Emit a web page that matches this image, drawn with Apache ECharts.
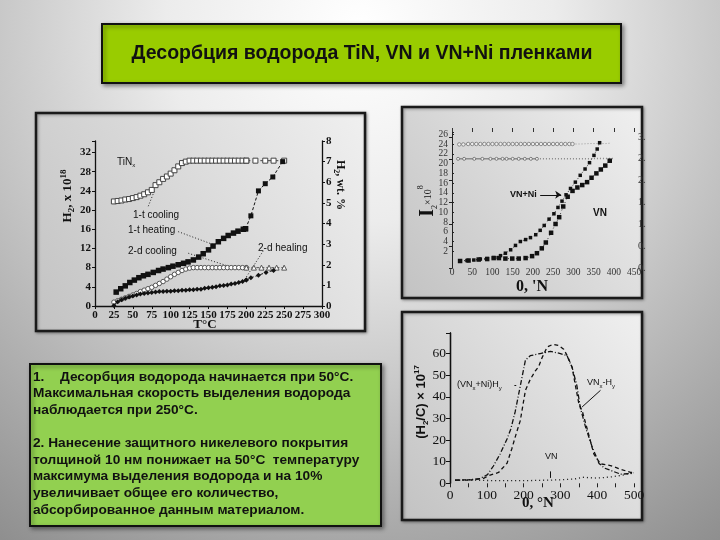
<!DOCTYPE html>
<html><head><meta charset="utf-8">
<script src="https://cdn.jsdelivr.net/npm/echarts@6/dist/echarts.min.js"></script>
<style>html,body{margin:0;padding:0;background:#c8c8c8}#c{width:720px;height:540px}</style>
</head><body><div id="c"></div>
<script>
// ---------- Chart 1 (TiN) : x = T, °C ; y = H2 x 10^18 ----------
const c1Ticks = [0, 25, 50, 75, 100, 125, 150, 175, 200, 225, 250, 275, 300];
const cool1 = [[25,21.8],[30,21.9],[35,22.0],[40,22.2],[45,22.3],[50,22.5],[55,22.7],[60,23.0],[65,23.3],[70,23.7],[75,24.2],[80,25.2],[85,25.8],[90,26.5],[95,27.0],[100,27.6],[105,28.3],[110,29.1],[115,29.8],[120,30.1],[125,30.3],[130,30.3],[135,30.3],[140,30.3],[145,30.3],[150,30.3],[155,30.3],[160,30.3],[165,30.3],[170,30.3],[175,30.3],[180,30.3],[185,30.3],[190,30.3],[195,30.3],[200,30.3]];
const cool1Tail = [[200,30.3],[212,30.3],[225,30.3],[236,30.3],[250,30.3]];
const heat1 = [[28,2.9],[34,3.6],[40,4.2],[46,4.9],[52,5.4],[58,5.9],[64,6.3],[70,6.6],[77,7.0],[84,7.4],[90,7.7],[97,8.0],[103,8.3],[110,8.6],[117,8.9],[123,9.2],[130,9.6],[137,10.2],[143,10.9],[150,11.7],[156,12.5],[163,13.4],[170,14.1],[176,14.7],[183,15.2],[189,15.6],[196,16.0],[199,16.1]];
const heat1Tail = [[199,16.1],[206,18.8],[216,24.0],[225,25.5],[235,26.9],[248,30.1]];
const cool2 = [[25,0.8],[30,1.1],[35,1.4],[40,1.7],[45,2.0],[50,2.3],[55,2.6],[60,3.0],[65,3.3],[70,3.6],[75,3.9],[80,4.3],[85,4.7],[90,5.1],[95,5.6],[100,6.1],[105,6.6],[110,7.0],[115,7.4],[120,7.7],[125,7.9],[130,8.0],[135,8.0],[140,8.0],[145,8.0],[150,8.0],[155,8.0],[160,8.0],[165,8.0],[170,8.0],[175,8.0],[180,8.0],[185,8.0],[190,8.0],[195,8.0],[200,8.0]];
const cool2Tail = [[200,8.0],[210,8.0],[220,8.0],[230,8.0],[240,8.0],[250,8.0]];
const heat2 = [[25,0.1],[30,0.9],[35,1.3],[40,1.6],[45,1.9],[50,2.1],[55,2.3],[60,2.5],[65,2.6],[70,2.7],[75,2.8],[80,2.9],[85,3.0],[90,3.0],[95,3.1],[100,3.1],[105,3.2],[110,3.2],[115,3.3],[120,3.3],[125,3.4],[130,3.4],[135,3.5],[140,3.5],[145,3.7],[150,3.8],[155,3.9],[160,4.0],[165,4.2],[170,4.3],[175,4.4],[180,4.6],[185,4.7],[190,4.9],[195,5.1],[200,5.4]];
const heat2Tail = [[200,5.4],[206,5.9],[216,6.4],[226,7.0],[236,7.4]];

// ---------- Chart 2 (VN, VN+Ni) ----------
const vnNi = [[20,0],[37,0.1],[54,0.2],[70,0.4],[87,0.5],[103,0.7],[120,1.1],[132,1.6],[145,2.3],[157,3.2],[169,4.0],[182,4.4],[194,4.8],[207,5.4],[218,6.3],[228,7.3],[240,8.6],[252,9.7],[262,11.0],[272,12.3],[282,13.6],[293,14.9],[305,16.2],[317,17.6],[329,18.9],[340,20.2],[351,21.7],[359,23.0],[365,24.3]];
const vn = [[20,0],[41,0.1],[66,0.3],[87,0.4],[103,0.6],[116,0.6],[132,0.5],[149,0.5],[165,0.5],[182,0.6],[198,1.0],[210,1.6],[222,2.6],[232,3.8],[245,5.8],[256,7.6],[265,9.0],[275,11.2],[286,13.2],[298,14.4],[310,15.1],[322,15.6],[334,16.2],[345,17.1],[357,18.0],[368,18.8],[379,19.6],[390,20.6]];
const wtTop = [[18,2.83],[28,2.83],[40,2.84],[50,2.84],[60,2.84],[70,2.84],[80,2.84],[90,2.84],[100,2.84],[110,2.84],[120,2.84],[130,2.84],[140,2.84],[150,2.84],[160,2.84],[170,2.84],[180,2.84],[190,2.84],[200,2.84],[210,2.84],[220,2.84],[230,2.84],[240,2.84],[250,2.84],[260,2.84],[270,2.84],[280,2.84],[290,2.84],[298,2.84]];
const wtTopTail = [[298,2.84],[320,2.84],[340,2.85],[360,2.85],[380,2.85],[393,2.86]];
const wtLow = [[15,2.5],[30,2.5],[55,2.5],[75,2.5],[95,2.5],[110,2.5],[125,2.5],[135,2.5],[150,2.5],[165,2.5],[180,2.5],[195,2.5],[210,2.5]];
const wtLowTail = [[210,2.5],[300,2.5],[400,2.51]];

// ---------- Chart 3 (desorption rate) ----------
const vnNiH = [[14,1.5],[45,1.5],[82,2.2],[102,4],[118,8],[136,13.5],[155,20.5],[165,25],[177,33],[191,45],[205,57],[218,59],[245,60],[273,61],[300,60],[318,59],[332,53.5],[345,45],[354,35],[362,30],[370,25],[386,17],[405,9.2],[420,7],[436,6],[464,4.2],[491,4.5],[500,4.8]];
const vnH = [[14,1.5],[64,1.6],[91,2.3],[109,3.8],[132,5],[155,9.3],[168,16],[180,23],[191,29],[198,36],[205,43],[218,48],[232,52],[241,54],[250,58],[264,63],[280,64.3],[295,63.7],[309,62],[320,58.5],[332,53.5],[341,45],[350,37],[360,33],[373,25],[391,13.5],[409,9],[436,8.2],[464,6.5],[491,5],[500,5]];
const vnBase = [[14,1.5],[50,1.5],[100,1.3],[150,1.2],[200,1.2],[250,1.4],[300,1.6],[340,2.0],[360,2.8],[400,2.4],[440,3.0],[470,3.8],[500,5]];

const SERIF = '"Liberation Serif","DejaVu Serif",serif';
const SANS = '"Liberation Sans",Arial,sans-serif';
const chart = echarts.init(document.getElementById('c'));

function panel(x, y, w, h) {
  return { type: 'rect', z: -50, shape: { x: x, y: y, width: w, height: h },
    style: { fill: new echarts.graphic.LinearGradient(0, 1, 1, 0, [{offset:0,color:'#c2c2c2'},{offset:1,color:'#f0f0f0'}]),
      stroke: '#1a1a1a', lineWidth: 2.5, shadowBlur: 3, shadowColor: 'rgba(0,0,0,0.35)', shadowOffsetX: 1, shadowOffsetY: 1 } };
}
function txt(x, y, text, font, extra) {
  return Object.assign({ type: 'text', z: 60, x: x, y: y,
    style: Object.assign({ text: text, font: font, fill: '#111', align: 'left', verticalAlign: 'middle' }, extra || {}) });
}
const sub = (fs) => ({ fontSize: fs, verticalAlign: 'bottom', lineHeight: fs + 1 });
const sup = (fs) => ({ fontSize: fs, verticalAlign: 'top', lineHeight: fs + 1 });

const textFont = 'bold 13.7px ' + SANS;
const graphics = [
  { type: 'rect', z: -100, shape: { x: 0, y: 0, width: 720, height: 540 },
    style: { fill: new echarts.graphic.RadialGradient(0.5, 0.05, 1.2, [{offset:0,color:'#ffffff'},{offset:0.3,color:'#ececec'},{offset:1,color:'#8a8a8a'}]) } },
  { type: 'rect', z: -50, shape: { x: 102, y: 24, width: 519, height: 59 },
    style: { fill: '#99cc00', stroke: '#111', lineWidth: 2, shadowBlur: 4, shadowColor: 'rgba(0,0,0,0.4)', shadowOffsetX: 2, shadowOffsetY: 2 } },
  txt(362, 54, 'Десорбция водорода TiN, VN и VN+Ni пленками', 'bold 19.5px ' + SANS, { align: 'center' }),
  panel(36, 113, 329, 218),
  panel(402, 107, 240, 191),
  panel(402, 312, 240, 208),
  { type: 'rect', z: -50, shape: { x: 30, y: 364, width: 351, height: 162 },
    style: { fill: '#92d050', stroke: '#111', lineWidth: 2, shadowBlur: 4, shadowColor: 'rgba(0,0,0,0.4)', shadowOffsetX: 2, shadowOffsetY: 2 } },
  txt(33, 377, '1.', textFont),
  txt(60, 377, 'Десорбция водорода начинается при 50°С.', textFont),
  txt(33, 393.6, 'Максимальная скорость выделения водорода', textFont),
  txt(33, 410.2, 'наблюдается при 250°С.', textFont),
  txt(33, 443.4, '2. Нанесение защитного никелевого покрытия', textFont),
  txt(33, 460, 'толщиной 10 нм понижает на 50°С  температуру', textFont),
  txt(33, 476.6, 'максимума выделения водорода и на 10%', textFont),
  txt(33, 493.2, 'увеличивает общее его количество,', textFont),
  txt(33, 509.8, 'абсорбированное данным материалом.', textFont),
  // chart 1 texts
  Object.assign(txt(68, 196, '{b|H}{s|2}{b|, x 10}{p|18}', 'bold 13px ' + SERIF,
    { align: 'center', rich: { b: { fontSize: 13, fontWeight: 'bold', fontFamily: SERIF, lineHeight: 17 }, s: Object.assign(sub(9), {fontWeight:'bold', fontFamily: SERIF}), p: Object.assign(sup(9), {fontWeight:'bold', fontFamily: SERIF}) } }), { rotation: Math.PI / 2 }),
  Object.assign(txt(340, 185, '{b|H}{s|2}{b|, wt. %}', 'bold 12px ' + SERIF,
    { align: 'center', rich: { b: { fontSize: 12, fontWeight: 'bold', fontFamily: SERIF, lineHeight: 15 }, s: Object.assign(sub(8), {fontWeight:'bold', fontFamily: SERIF}) } }), { rotation: -Math.PI / 2 }),
  txt(205, 325, 'T°C', 'bold 13px ' + SERIF, { align: 'center' }),
  txt(117, 162, '{a|TiN}{s|x}', '10px ' + SANS, { rich: { a: { fontSize: 10, fontFamily: SANS, lineHeight: 13 }, s: sub(6) } }),
  txt(133, 215, '1-t cooling', '10px ' + SANS),
  txt(128, 230, '1-t heating', '10px ' + SANS),
  txt(128, 251.5, '2-d cooling', '10px ' + SANS),
  txt(258, 248, '2-d healing', '10px ' + SANS),
  // chart 2 texts
  Object.assign(txt(428, 201, '{I|I}{s|2}{t|×10}{p|8}', 'bold 12px ' + SERIF,
    { align: 'center', rich: { I: { fontSize: 20, fontWeight: 'bold', fontFamily: SERIF, lineHeight: 22 }, s: Object.assign(sub(8), {fontFamily: SERIF}), t: { fontSize: 10, fontFamily: SERIF, lineHeight: 22 }, p: Object.assign(sup(8), {fontFamily: SERIF}) } }), { rotation: Math.PI / 2 }),
  txt(532, 287, "0, 'N", 'bold 16px ' + SERIF, { align: 'center' }),
  txt(510, 195, 'VN+Ni', 'bold 9px ' + SANS),
  txt(593, 213, 'VN', 'bold 10px ' + SANS),
  // chart 3 texts
  Object.assign(txt(421, 402, '{b|(H}{s|2}{b|/C) × 10}{p|17}', 'bold 13px ' + SANS,
    { align: 'center', rich: { b: { fontSize: 13, fontWeight: 'bold', fontFamily: SANS, lineHeight: 17 }, s: Object.assign(sub(8), {fontWeight:'bold'}), p: Object.assign(sup(8), {fontWeight:'bold'}) } }), { rotation: Math.PI / 2 }),
  txt(538, 503, '0, °N', 'bold 15px ' + SERIF, { align: 'center' }),
  txt(457, 385, '{a|(VN}{s|x}{a|+Ni)H}{s|y}', '9px ' + SANS, { rich: { a: { fontSize: 9, fontFamily: SANS, lineHeight: 12 }, s: sub(6) } }),
  txt(587, 383, '{a|VN}{s|x}{a|-H}{s|y}', '9px ' + SANS, { rich: { a: { fontSize: 9, fontFamily: SANS, lineHeight: 12 }, s: sub(6) } }),
  txt(545, 457, 'VN', '9px ' + SANS)
];

const axLine = { show: true, lineStyle: { color: '#111', width: 1.3 } };
const noSplit = { show: false };
function lbl(size, weight, color, fam) { return { fontSize: size, fontWeight: weight, color: color || '#111', fontFamily: fam || SERIF }; }

const lead = (a, b) => [{ coord: a }, { coord: b }];

const option = {
  animation: false,
  backgroundColor: 'transparent',
  graphic: graphics,
  grid: [
    { left: 95, top: 141, width: 227, height: 165 },
    { left: 452, top: 132, width: 182, height: 129 },
    { left: 452, top: 137, width: 182, height: 131 },
    { left: 450, top: 333, width: 184, height: 150.3 }
  ],
  xAxis: [
    { gridIndex: 0, type: 'value', min: 0, max: 300, interval: 25, axisLine: axLine,
      axisTick: { show: true, length: 3, lineStyle: { color: '#111' } },
      axisLabel: Object.assign(lbl(11, 'bold'), { margin: 4 }), splitLine: noSplit },
    { gridIndex: 1, type: 'value', min: 0, max: 450, interval: 50, axisLine: { show: false },
      axisTick: { show: false }, axisLabel: Object.assign(lbl(9.5, 'normal', '#333'), { margin: 6 }), splitLine: noSplit },
    { gridIndex: 1, type: 'value', position: 'top', min: 0, max: 450, interval: 50, axisLine: { show: false },
      axisTick: { show: true, length: 4, lineStyle: { color: '#333' } }, axisLabel: { show: false }, splitLine: noSplit },
    { gridIndex: 2, type: 'value', min: 0, max: 450, show: false },
    { gridIndex: 3, type: 'value', min: 0, max: 500, interval: 100, axisLine: { show: false },
      axisTick: { show: false }, axisLabel: Object.assign(lbl(13.5, 'normal'), { margin: 5 }), splitLine: noSplit },
    { gridIndex: 3, type: 'value', position: 'top', min: 0, max: 500, interval: 50, axisLine: { show: false },
      axisTick: { show: true, inside: true, length: 4, lineStyle: { color: '#222' } }, axisLabel: { show: false }, splitLine: noSplit }
  ],
  yAxis: [
    { gridIndex: 0, type: 'value', min: 0, max: 34.4, interval: 4, axisLine: axLine,
      axisTick: { show: true, length: 3, lineStyle: { color: '#111' } },
      axisLabel: Object.assign(lbl(11, 'bold'), { margin: 4, formatter: v => v > 32.5 ? '' : String(v) }), splitLine: noSplit },
    { gridIndex: 0, type: 'value', position: 'right', min: 0, max: 8, interval: 1, axisLine: axLine,
      axisTick: { show: true, length: 3, lineStyle: { color: '#111' } },
      axisLabel: Object.assign(lbl(11, 'bold'), { margin: 4 }), splitLine: noSplit },
    { gridIndex: 1, type: 'value', min: 0, max: 26.5, interval: 2, axisLine: { show: true, lineStyle: { color: '#222', width: 1 } },
      axisTick: { show: true, inside: true, length: 2, lineStyle: { color: '#222' } },
      axisLabel: Object.assign(lbl(9.5, 'normal', '#333'), { margin: 4, formatter: v => v > 26.2 ? '' : String(v) }), splitLine: noSplit },
    { gridIndex: 2, type: 'value', position: 'right', min: 0, max: 3, interval: 0.5, axisLine: { show: true, lineStyle: { color: '#222', width: 1 } },
      axisTick: { show: true, inside: true, length: 3, lineStyle: { color: '#222' } },
      axisLabel: Object.assign(lbl(10, 'normal', '#333'), { margin: 4, formatter: v => v.toFixed(1).slice(0, 2) }), splitLine: noSplit },
    { gridIndex: 3, type: 'value', min: 0, max: 69.5, interval: 10, axisLine: axLine,
      axisTick: { show: true, length: 3, lineStyle: { color: '#111' } },
      axisLabel: Object.assign(lbl(13.5, 'normal'), { margin: 4, formatter: v => v > 62 ? '' : String(v) }), splitLine: noSplit },
    { gridIndex: 3, type: 'value', position: 'right', min: 0, max: 69.5, interval: 10, axisLine: axLine,
      axisTick: { show: true, inside: true, length: 4, lineStyle: { color: '#111' } }, axisLabel: { show: false }, splitLine: noSplit }
  ],
  series: [
    // chart 1
    { type: 'line', xAxisIndex: 0, yAxisIndex: 0, data: cool1, symbol: 'rect', symbolSize: 5,
      itemStyle: { color: '#fff', borderColor: '#444', borderWidth: 1 }, lineStyle: { color: '#555', width: 1 }, z: 5 },
    { type: 'line', xAxisIndex: 0, yAxisIndex: 0, data: cool1Tail, symbol: 'rect', symbolSize: 5,
      itemStyle: { color: '#fff', borderColor: '#444', borderWidth: 1 }, lineStyle: { color: '#444', width: 1, type: [4, 3] }, z: 5 },
    { type: 'line', xAxisIndex: 0, yAxisIndex: 0, data: heat1, symbol: 'rect', symbolSize: 5.5,
      itemStyle: { color: '#111' }, lineStyle: { color: '#111', width: 1 }, z: 6,
      markLine: { silent: true, symbol: 'none', label: { show: false }, lineStyle: { color: '#222', width: 1, type: [1, 2] },
        data: [ lead([70.4, 20.8], [79.3, 24.3]), lead([110, 15.5], [156.4, 12.8]), lead([123.3, 11.0], [178.4, 8.2]), lead([222.4, 11.5], [198.2, 5.6]) ] } },
    { type: 'line', xAxisIndex: 0, yAxisIndex: 0, data: heat1Tail, symbol: 'rect', symbolSize: 5,
      itemStyle: { color: '#111' }, lineStyle: { color: '#111', width: 1, type: [3, 2] }, z: 6 },
    { type: 'line', xAxisIndex: 0, yAxisIndex: 0, data: cool2, symbol: 'circle', symbolSize: 4.5,
      itemStyle: { color: '#fff', borderColor: '#555', borderWidth: 1 }, lineStyle: { color: '#666', width: 1 }, z: 5 },
    { type: 'line', xAxisIndex: 0, yAxisIndex: 0, data: cool2Tail, symbol: 'triangle', symbolSize: 5,
      itemStyle: { color: '#fff', borderColor: '#555', borderWidth: 1 }, lineStyle: { color: '#555', width: 1, type: [3, 2] }, z: 5 },
    { type: 'line', xAxisIndex: 0, yAxisIndex: 0, data: heat2, symbol: 'diamond', symbolSize: 5,
      itemStyle: { color: '#111' }, lineStyle: { color: '#111', width: 1 }, z: 6 },
    { type: 'line', xAxisIndex: 0, yAxisIndex: 0, data: heat2Tail, symbol: 'diamond', symbolSize: 5,
      itemStyle: { color: '#111' }, lineStyle: { color: '#111', width: 1, type: [3, 2] }, z: 6 },
    // chart 2
    { type: 'line', xAxisIndex: 3, yAxisIndex: 3, data: wtTop, symbol: 'circle', symbolSize: 3.5,
      itemStyle: { color: '#eee', borderColor: '#777', borderWidth: 0.8 }, lineStyle: { color: '#888', width: 0.8 }, z: 5 },
    { type: 'line', xAxisIndex: 3, yAxisIndex: 3, data: wtTopTail, symbol: 'none',
      lineStyle: { color: '#999', width: 1, type: [1, 2] }, z: 5 },
    { type: 'line', xAxisIndex: 3, yAxisIndex: 3, data: wtLow, symbol: 'circle', symbolSize: 3,
      itemStyle: { color: '#eee', borderColor: '#666', borderWidth: 0.8 }, lineStyle: { color: '#666', width: 1 }, z: 5 },
    { type: 'line', xAxisIndex: 3, yAxisIndex: 3, data: wtLowTail, symbol: 'none',
      lineStyle: { color: '#888', width: 1.5, type: [1, 2] }, z: 5 },
    { type: 'line', xAxisIndex: 1, yAxisIndex: 2, data: vnNi, symbol: 'rect', symbolSize: 3.5,
      itemStyle: { color: '#111' }, lineStyle: { color: '#333', width: 1, type: [1, 3] }, z: 6,
      markLine: { silent: true, symbol: ['none', 'arrow'], symbolSize: 6, label: { show: false }, lineStyle: { color: '#111', width: 1, type: 'solid' },
        data: [ lead([218, 13.6], [270, 13.6]) ] } },
    { type: 'line', xAxisIndex: 1, yAxisIndex: 2, data: vn, symbol: 'rect', symbolSize: 4.5,
      itemStyle: { color: '#111' }, lineStyle: { color: '#333', width: 1, type: [1, 3] }, z: 6 },
    // chart 3
    { type: 'line', xAxisIndex: 4, yAxisIndex: 4, data: vnNiH, symbol: 'none',
      lineStyle: { color: '#111', width: 1.3, type: [5, 2, 1, 2] }, z: 6,
      markLine: { silent: true, symbol: 'none', label: { show: false }, lineStyle: { color: '#111', width: 1, type: 'solid' },
        data: [ lead([409, 43], [359, 35.3]), lead([273, 2.5], [273, 5.5]), lead([175, 45.5], [180, 45.5]) ] } },
    { type: 'line', xAxisIndex: 4, yAxisIndex: 4, data: vnH, symbol: 'none',
      lineStyle: { color: '#111', width: 1.3, type: [4, 3] }, z: 6 },
    { type: 'line', xAxisIndex: 4, yAxisIndex: 4, data: vnBase, symbol: 'none',
      lineStyle: { color: '#111', width: 1.3, type: [1, 3] }, z: 6 }
  ]
};
chart.setOption(option);
</script></body></html>
